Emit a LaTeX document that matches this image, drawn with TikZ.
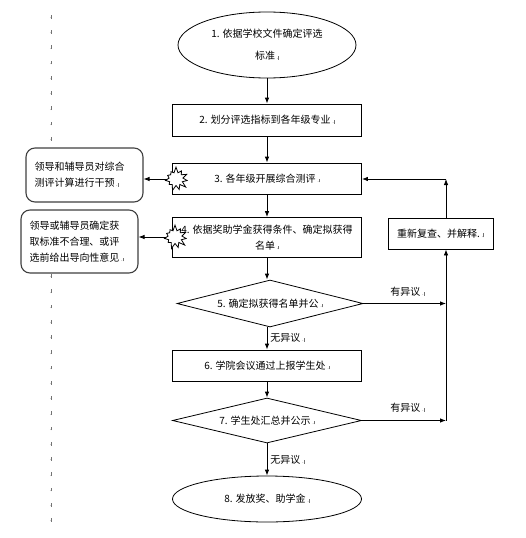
\documentclass[tikz,border=0pt]{standalone}
\usepackage{fontspec}
\setmainfont{Noto Sans CJK SC}
\usetikzlibrary{arrows.meta,shapes.geometric,shapes.symbols}
\newcommand{\pmk}{{\color{black!55}\,{\fontsize{6}{6}\selectfont.}\rule{0.6pt}{3.8pt}}}
\begin{document}
\begin{tikzpicture}[x=1pt,y=-1pt,line width=0.8pt,>={Latex[length=6pt,width=4.5pt]},
        every node/.style={font=\fontsize{10}{16}\selectfont},
        stepbox/.style={draw,fill=white,minimum width=189pt,minimum height=31pt,inner sep=0pt,align=center},
        endoval/.style={draw,fill=white,ellipse,inner sep=0pt,align=center},
        checkbox/.style={draw,fill=white,diamond,aspect=4,inner sep=0pt},
        notebox/.style={draw=black!75,line width=1.1pt,fill=white,rounded corners=9pt,minimum width=117pt,
            inner sep=0pt,text width=100pt,align=left},
        burst/.style={draw,fill=white,starburst,starburst points=11,starburst point height=6pt,
            random starburst=7,minimum width=26pt,minimum height=25pt,inner sep=0pt},
        pmark/.style={inner sep=0pt}]
    \useasboundingbox (0,0) rectangle (526,538);

    % paragraph marks down the margin (those under the note boxes left out)
    \foreach \k in {0,...,8,12,17,18,...,33}
        \node[pmark] at (50,16.7+15.25*\k) {\pmk};

    \node[endoval,minimum width=178pt,minimum height=66pt,font=\fontsize{10}{22}\selectfont] (s1) at (267,45)
        {1. 依据学校文件确定评选\\标准\pmk};
    \node[stepbox,minimum height=32pt] (s2) at (267,120) {2. 划分评选指标到各年级专业\pmk};
    \node[stepbox] (s3) at (267,178.5) {3. 各年级开展综合测评\pmk};
    \node[stepbox,minimum height=40pt] (s4) at (267,237.5) {4. 依据奖助学金获得条件、确定拟获得\\名单\pmk};
    \node[checkbox,minimum width=186pt,minimum height=47pt] (d5) at (270,303.5) {5. 确定拟获得名单并公\pmk};
    \node[stepbox] (s6) at (267,365.5) {6. 学院会议通过上报学生处\pmk};
    \node[checkbox,minimum width=189pt,minimum height=45pt] (d7) at (267,420.5) {7. 学生处汇总并公示\pmk};
    \node[endoval,minimum width=189pt,minimum height=46pt] (s8) at (267,499) {8. 发放奖、助学金\pmk};

    \node[stepbox,minimum width=105pt] (fix) at (440.5,233.5) {重新复查、并解释.\pmk};

    \node[notebox,minimum height=54pt] (lb1) at (84.5,175) {领导和辅导员对综合\\测评计算进行干预\pmk};
    \node[notebox,minimum height=63pt] (lb2) at (79.5,241.5) {领导或辅导员确定获\\取标准不合理、或评\\选前给出导向性意见\pmk};

    \node[burst] (sb1) at (176,179) {};
    \node[burst] (sb2) at (175,237) {};

    \coordinate (c5) at (446,303.5);
    \coordinate (c7) at (446,420.5);
    \coordinate (ctop) at (446,179);

    \draw[->] (s1) -- (s2);
    \draw[->] (s2) -- (s3);
    \draw[->] (s3) -- (s4);
    \draw[->] (s4.south) -- (s4.south |- d5.north);
    \draw[->] (s6.north |- d5.south) -- (s6.north);
    \draw[->] (s6) -- (d7);
    \draw[->] (d7) -- (s8);

    \draw[->] (sb1.west) -- (sb1.west -| lb1.east);
    \draw[->] (sb2.west) -- (sb2.west -| lb2.east);

    \draw[->] (d5.east) -- (c5);
    \draw[->] (d7.east) -- (c7);
    \draw[->] (c7) -- (c7 |- fix.south);
    \draw[->] (ctop |- fix.north) -- (ctop);
    \draw[->] (ctop) -- (ctop -| s3.east);

    \node[anchor=west,inner sep=0pt] (y5) at (390,292) {有异议\pmk};
    \node[anchor=west,inner sep=0pt] (y7) at (390,408) {有异议\pmk};
    \node[anchor=west,inner sep=0pt] (n5) at (270,338) {无异议\pmk};
    \node[anchor=west,inner sep=0pt] (n7) at (270,460) {无异议\pmk};
\end{tikzpicture}
\end{document}
